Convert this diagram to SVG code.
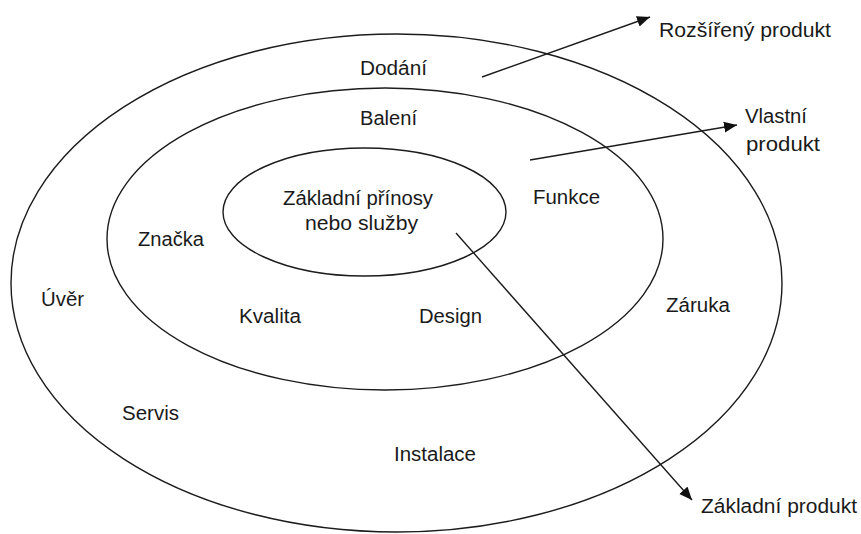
<svg xmlns="http://www.w3.org/2000/svg" width="861" height="534" viewBox="0 0 861 534">
  <style>
    .ring { fill: none; stroke: #1c1c1c; stroke-width: 1.4; }
    .lbl { font-family: "Liberation Sans", "Open Sans", sans-serif; font-size: 20px; fill: #1a1a1a; }
    .conn { fill: none; stroke: #1c1c1c; stroke-width: 1.4; }
  </style>
  <defs>
    <marker id="arrowhead" markerUnits="userSpaceOnUse" markerWidth="14" markerHeight="12" refX="13" refY="6" orient="auto">
      <path d="M0,0.5 L13,6 L0,11.5 Z" fill="#111"/>
    </marker>
  </defs>
  <rect width="861" height="534" fill="#ffffff"/>

  <!-- outer ring: augmented product -->
  <g id="augmented-ring">
    <ellipse class="ring" cx="396.5" cy="283" rx="385.5" ry="249"/>
    <text class="lbl" x="360" y="75" textLength="67" lengthAdjust="spacingAndGlyphs">Dodání</text>
    <text class="lbl" x="41" y="306" textLength="43" lengthAdjust="spacingAndGlyphs">Úvěr</text>
    <text class="lbl" x="666" y="312" textLength="64" lengthAdjust="spacingAndGlyphs">Záruka</text>
    <text class="lbl" x="122" y="420" textLength="57" lengthAdjust="spacingAndGlyphs">Servis</text>
    <text class="lbl" x="394" y="461" textLength="82" lengthAdjust="spacingAndGlyphs">Instalace</text>
  </g>

  <!-- middle ring: actual product -->
  <g id="actual-ring">
    <ellipse class="ring" cx="385" cy="239" rx="278" ry="151"/>
    <text class="lbl" x="360" y="125" textLength="57" lengthAdjust="spacingAndGlyphs">Balení</text>
    <text class="lbl" x="533" y="204" textLength="67" lengthAdjust="spacingAndGlyphs">Funkce</text>
    <text class="lbl" x="138" y="246" textLength="66" lengthAdjust="spacingAndGlyphs">Značka</text>
    <text class="lbl" x="239" y="323" textLength="62" lengthAdjust="spacingAndGlyphs">Kvalita</text>
    <text class="lbl" x="419" y="323" textLength="63" lengthAdjust="spacingAndGlyphs">Design</text>
  </g>

  <!-- inner core -->
  <g id="core">
    <ellipse class="ring" cx="364.5" cy="212" rx="141.5" ry="64"/>
    <text class="lbl" x="283" y="205" textLength="150" lengthAdjust="spacingAndGlyphs">Základní přínosy</text>
    <text class="lbl" x="305" y="230" textLength="113" lengthAdjust="spacingAndGlyphs">nebo služby</text>
  </g>

  <!-- callout labels -->
  <g id="label-augmented">
    <text class="lbl" x="659" y="37" textLength="172" lengthAdjust="spacingAndGlyphs">Rozšířený produkt</text>
  </g>
  <g id="label-actual">
    <text class="lbl" x="745" y="123" textLength="62" lengthAdjust="spacingAndGlyphs">Vlastní</text>
    <text class="lbl" x="746" y="151" textLength="74" lengthAdjust="spacingAndGlyphs">produkt</text>
  </g>
  <g id="label-core">
    <text class="lbl" x="701" y="513" textLength="156" lengthAdjust="spacingAndGlyphs">Základní produkt</text>
  </g>

  <!-- connectors -->
  <g id="connectors">
    <line class="conn" x1="482" y1="77" x2="650" y2="17" marker-end="url(#arrowhead)"/>
    <line class="conn" x1="530" y1="160" x2="737" y2="125" marker-end="url(#arrowhead)"/>
    <line class="conn" x1="456" y1="233" x2="692" y2="500" marker-end="url(#arrowhead)"/>
  </g>
</svg>
